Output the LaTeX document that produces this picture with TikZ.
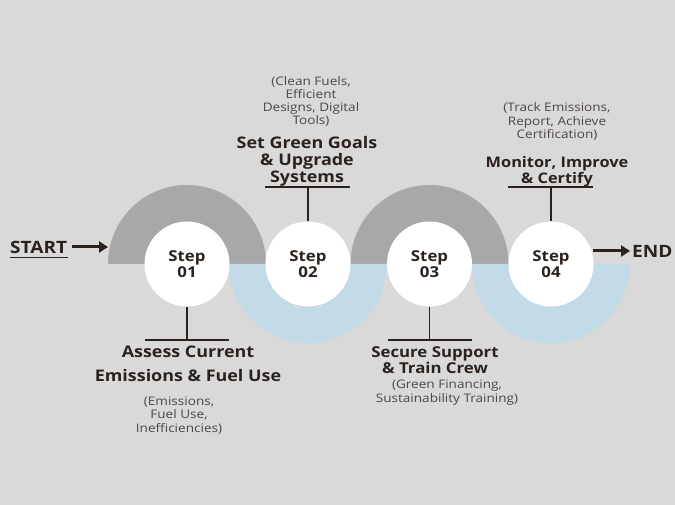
\documentclass[tikz,border=0pt]{standalone}
\usepackage{fontspec}
\setmainfont{Open Sans}[FakeStretch=1.12]
\newfontfamily\subfont{Open Sans}[FakeStretch=1.15]
\usetikzlibrary{arrows.meta}
\definecolor{bg}{HTML}{D9D9D9}
\definecolor{arcgray}{HTML}{A8A8A8}
\definecolor{arcblue}{HTML}{C3DAE7}
\definecolor{ink}{HTML}{2B221E}
\definecolor{subink}{HTML}{4E4743}
\tikzset{
  stepc/.style={circle,fill=white,minimum size=85pt,inner sep=0pt,align=center,
    font=\bfseries\fontsize{15}{16}\selectfont,text=ink},
  conn/.style={draw=ink,line width=1.3pt},
  ttl/.style={align=center,text=ink,inner sep=0pt,font=\bfseries\fontsize{16}{17}\selectfont},
  sub/.style={align=center,text=subink,inner sep=0pt,font=\subfont\fontsize{11.8}{13.3}\selectfont},
  bigarrow/.style={draw=ink,line width=3pt,-{Triangle[length=9pt,width=11pt]}},
  endtxt/.style={text=ink,inner sep=0pt,font=\bfseries\fontsize{17}{17}\selectfont}
}
\begin{document}
\begin{tikzpicture}[x=1pt,y=-1pt]
\fill[bg] (0,0) rectangle (675,505);
\useasboundingbox (0,0) rectangle (675,505);
% half disks
\fill[arcgray] (108,264) arc[start angle=180,end angle=360,radius=79] -- cycle;
\fill[arcgray] (350.5,264) arc[start angle=180,end angle=360,radius=79] -- cycle;
\fill[arcblue] (229,264) arc[start angle=180,end angle=0,radius=79] -- cycle;
\fill[arcblue] (472,264) arc[start angle=180,end angle=0,radius=79] -- cycle;
% step circles
\node[stepc] (s1) at (187,264) {Step\\01};
\node[stepc] (s2) at (308,264) {Step\\02};
\node[stepc] (s3) at (429.5,264) {Step\\03};
\node[stepc] (s4) at (551,264) {Step\\04};
% connectors
\coordinate (c1) at (187,340); \coordinate (c1l) at (145,340); \coordinate (c1r) at (229,340);
\coordinate (c2) at (308,187); \coordinate (c2l) at (265,187); \coordinate (c2r) at (350,187);
\coordinate (c3) at (429.5,340); \coordinate (c3l) at (388,340); \coordinate (c3r) at (472,340);
\coordinate (c4) at (551,187); \coordinate (c4l) at (508,187); \coordinate (c4r) at (593,187);
\draw[conn] (s1.south) -- (c1); \draw[conn] (c1l) -- (c1r);
\draw[conn] (s2.north) -- (c2); \draw[conn] (c2l) -- (c2r);
\draw[conn] (s3.south) -- (c3); \draw[conn] (c3l) -- (c3r);
\draw[conn] (s4.north) -- (c4); \draw[conn] (c4l) -- (c4r);
% titles
\node[ttl,font=\bfseries\fontsize{16}{24}\selectfont] (t1) at (188,364) {Assess Current\\Emissions \& Fuel Use};
\node[ttl] (t2) at (307,161) {Set Green Goals\\\& Upgrade\\Systems};
\node[ttl,font=\bfseries\fontsize{15}{16}\selectfont] (t3) at (435,360) {Secure Support\\\& Train Crew};
\node[ttl,font=\bfseries\fontsize{14.6}{16}\selectfont] (t4) at (557,171.5) {Monitor, Improve\\\& Certify};
% subtitles
\node[sub] (d1) at (179,415.5) {(Emissions,\\Fuel Use,\\Inefficiencies)};
\node[sub] (d2) at (311,101.5) {(Clean Fuels,\\Efficient\\Designs, Digital\\Tools)};
\node[sub,font=\subfont\fontsize{11.8}{14}\selectfont] (d3) at (447,393) {(Green Financing,\\Sustainability Training)};
\node[sub] (d4) at (557,121.5) {(Track Emissions,\\Report, Achieve\\Certification)};
% start / end
\node[endtxt,anchor=west] (st) at (10,247) {START};
\coordinate (ul) at (10,257.5); \coordinate (ur) at (68,257.5);
\draw[ink,line width=1.2pt] (ul) -- (ur);
\coordinate (sa) at (72,247); \coordinate (sb) at (108,247);
\draw[bigarrow] (sa) -- (sb);
\node[endtxt,anchor=west] (en) at (632,251) {END};
\coordinate (ea) at (593,251); \coordinate (eb) at (630,251);
\draw[bigarrow] (ea) -- (eb);
\end{tikzpicture}
\end{document}
